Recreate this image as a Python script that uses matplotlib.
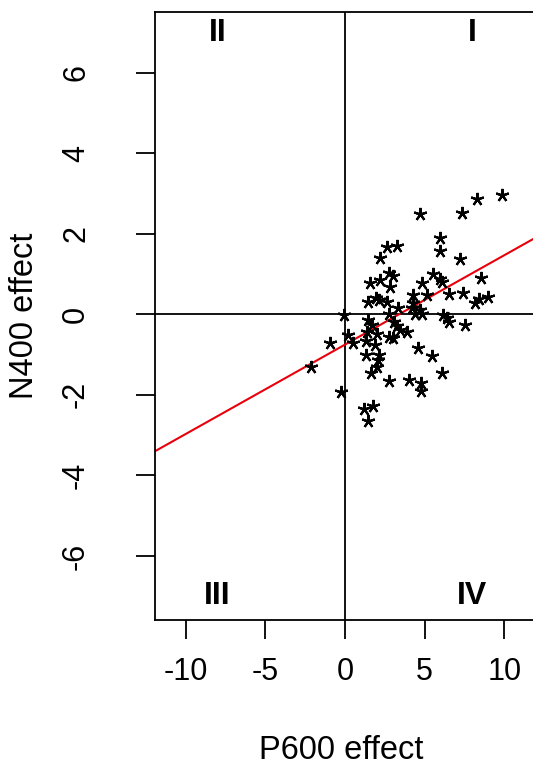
import numpy as np
import matplotlib
matplotlib.use("Agg")
import matplotlib.pyplot as plt

plt.rcParams['font.family'] = ['Liberation Sans', 'DejaVu Sans']

# per-subject effects (P600 on x, N400 on y)
p600 = [9.86, 8.29, 4.71, 7.34, 5.99, 5.99, 7.22, 2.64, 3.26, 2.20,
        2.73, 3.01, 1.57, 2.20, 2.82, 5.54, 5.96, 6.09, 4.81, 8.52,
        5.13, 6.50, 7.38, 8.18, 8.44, 8.95, 4.29, 1.46, 1.93, 2.13,
        2.62, 3.30, 4.29, 4.19, 4.71, 4.81, 4.39, -0.06, 2.73, 6.18,
        6.37, 6.55, 7.53, 1.46, 1.69, 3.08, 3.25, 3.45, 3.86, 0.16,
        -0.97, 0.52, 1.36, 1.98, 1.32, 1.88, 2.73, 3.01, 4.60, 5.44,
        1.32, 2.15, 2.10, 1.98, 1.65, 6.07, 2.73, 4.02, 4.76, 4.76,
        -0.26, 1.22, 1.78, 1.42, -2.15]
n400 = [2.97, 2.87, 2.50, 2.52, 1.90, 1.58, 1.38, 1.68, 1.69, 1.40,
        1.03, 0.96, 0.77, 0.86, 0.68, 1.00, 0.88, 0.81, 0.78, 0.91,
        0.47, 0.50, 0.53, 0.28, 0.38, 0.44, 0.47, 0.30, 0.40, 0.36,
        0.31, 0.17, 0.28, 0.15, 0.11, 0.02, 0.02, -0.02, 0.00, -0.01,
        -0.10, -0.20, -0.26, -0.14, -0.27, -0.20, -0.30, -0.39, -0.43, -0.50,
        -0.70, -0.71, -0.43, -0.48, -0.65, -0.77, -0.55, -0.59, -0.84, -1.03,
        -1.02, -1.02, -1.14, -1.30, -1.45, -1.45, -1.66, -1.63, -1.71, -1.91,
        -1.93, -2.36, -2.27, -2.64, -1.30]

# fitted line
intercept = -0.75
slope = 0.222

quadrants = ['I', 'II', 'III', 'IV']
quad_x = [8, -8, -8, 8]
quad_y = [7, 7, -7, -7]

x_ticks = [-10, -5, 0, 5, 10]
y_ticks = [-6, -4, -2, 0, 2, 4, 6]

fig = plt.figure(figsize=(5.33, 7.73), dpi=100)
ax = fig.add_axes([155/533, (773-620)/773, 1 - 155/533, (620-12)/773])

xlim = (-11.93, 11.8)
ylim = (-7.59, 7.51)

ax.axhline(0, color='black', lw=1.3, zorder=1)
ax.axvline(0, color='black', lw=1.3, zorder=1)

xs = np.array([xlim[0], xlim[1]])
ax.plot(xs, intercept + slope * xs, color='#e8000b', lw=1.5, zorder=2)

ax.plot(p600, n400, linestyle='none', marker=(5, 2, 0), markersize=9.5,
        markeredgewidth=1.6, color='black', zorder=3)

for lab, qx, qy in zip(quadrants, quad_x, quad_y):
    ax.text(qx, qy, lab, ha='center', va='center', fontsize=23,
            fontweight='bold')

ax.set_xlim(*xlim)
ax.set_ylim(*ylim)
ax.set_xticks(x_ticks)
ax.set_xticklabels([str(t) for t in x_ticks])  # plain hyphen minus
ax.set_yticks(y_ticks)
ax.set_yticklabels([str(t) for t in y_ticks], rotation=90, va='center')
ax.tick_params(axis='both', length=14, width=1.3, labelsize=22)
ax.tick_params(axis='x', pad=13)
ax.tick_params(axis='y', pad=32)

for side in ['left', 'top', 'bottom']:
    ax.spines[side].set_linewidth(1.3)
ax.spines['right'].set_visible(False)

ax.set_xlabel('P600 effect', fontsize=23.5, va='center', ha='center')
ax.set_ylabel('N400 effect', fontsize=23.5, va='center', ha='center')
ax.xaxis.set_label_coords(0.5 - 3/378, -0.214)
ax.yaxis.set_label_coords(-0.344, 0.5)

fig.savefig('out.png', dpi=100)
